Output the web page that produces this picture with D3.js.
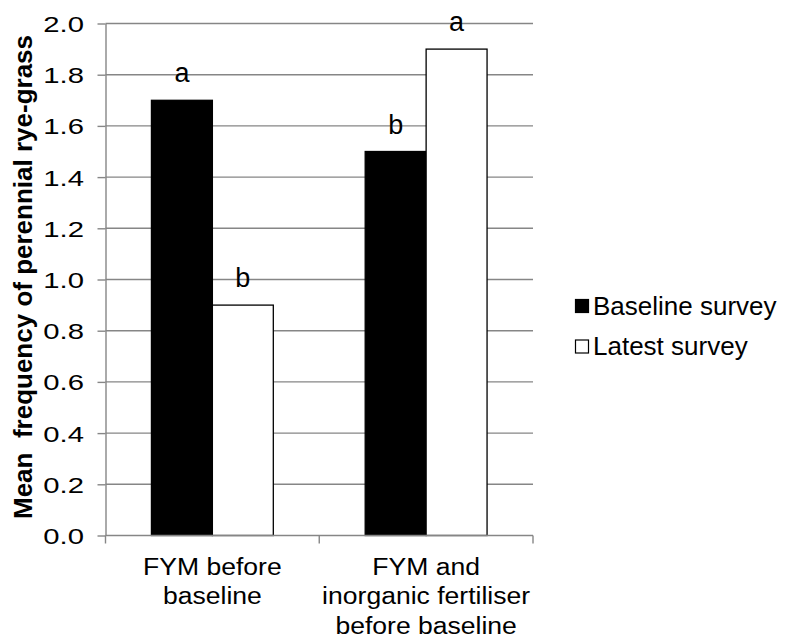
<!DOCTYPE html>
<html><head><meta charset="utf-8">
<script src="https://cdn.jsdelivr.net/npm/d3@7"></script>
<style>body{margin:0;background:#fff}</style>
</head><body>
<script>
const categories = [["FYM before","baseline"],["FYM and","inorganic fertiliser","before baseline"]];
const seriesNames = ["Baseline survey","Latest survey"];
const baselineValues = [1.7, 1.5];
const latestValues = [0.9, 1.9];
const baselineLetters = ["a","b"];
const latestLetters = ["b","a"];
const yTicks = [0,0.2,0.4,0.6,0.8,1.0,1.2,1.4,1.6,1.8,2.0];
const yTitle = "Mean  frequency of perennial rye-grass";

(function () {
const W = 785, H = 638;
const font = "'Liberation Sans', Arial, sans-serif";
const gray = "#868686";
const pL = 105.5, pR = 533, pT = 23.5, pB = 535.5;

const svg = d3.select("body").append("svg").attr("width", W).attr("height", H)
  .style("font-family", font);

const x = d3.scaleBand().domain(d3.range(categories.length)).range([pL, pR]).padding(0);
const xs = d3.scaleBand().domain([0,1]).range([0, x.bandwidth()]).paddingInner(0).paddingOuter(0.754);
const y = d3.scaleLinear().domain([0, 2]).range([pB, pT]);

// gridlines
svg.append("g").selectAll("line").data(yTicks.filter(d => d > 0)).join("line")
  .attr("x1", pL).attr("x2", pR)
  .attr("y1", d => y(d)).attr("y2", d => y(d))
  .attr("stroke", gray).attr("stroke-width", 1.4);

// y axis
const yAxis = svg.append("g").attr("transform", `translate(${pL},0)`)
  .call(d3.axisLeft(y).tickValues(yTicks).tickSize(8).tickSizeOuter(0).tickPadding(13).tickFormat(d3.format(".1f")));
yAxis.select(".domain").attr("stroke", gray).attr("stroke-width", 1.4);
yAxis.selectAll(".tick line").attr("stroke", gray).attr("stroke-width", 1.4);
yAxis.selectAll(".tick text").attr("fill", "#000").style("font-size", "22px").style("font-family", font)
  .attr("x", 0).attr("dy", "0.36em").attr("transform", "translate(-21.5,0) scale(1.33,1)");

// bars
const series = [
  {name: seriesNames[0], values: baselineValues, letters: baselineLetters, fill: "#000"},
  {name: seriesNames[1], values: latestValues, letters: latestLetters, fill: "#fff"}
];
series.forEach((s, si) => {
  const g = svg.append("g");
  g.selectAll("rect").data(s.values).join("rect")
    .attr("x", (d, i) => x(i) + xs(si))
    .attr("y", d => y(d))
    .attr("width", xs.bandwidth())
    .attr("height", d => y(0) - y(d))
    .attr("fill", s.fill).attr("stroke", "#000").attr("stroke-width", 1.3);
  g.selectAll("text").data(s.values).join("text")
    .attr("x", (d, i) => x(i) + xs(si) + xs.bandwidth() / 2)
    .attr("y", d => y(d) - 18)
    .attr("text-anchor", "middle").style("font-size", "27px")
    .text((d, i) => s.letters[i]);
});

// x axis
svg.append("line").attr("x1", pL).attr("x2", pR).attr("y1", pB).attr("y2", pB)
  .attr("stroke", gray).attr("stroke-width", 1.4);
const bounds = d3.range(categories.length + 1).map(i => i < categories.length ? x(i) : x(i - 1) + x.bandwidth());
svg.append("g").selectAll("line").data(bounds).join("line")
  .attr("x1", d => d).attr("x2", d => d).attr("y1", pB).attr("y2", pB + 8)
  .attr("stroke", gray).attr("stroke-width", 1.4);
const xl = svg.append("g").selectAll("text").data(categories).join("text")
  .attr("text-anchor", "middle").style("font-size", "23.5px")
  .attr("transform", (d, i) => `translate(${x(i) + x.bandwidth() / 2},574.5) scale(1.13,1)`);
xl.selectAll("tspan").data(d => d).join("tspan")
  .attr("x", 0).attr("dy", (d, i) => i === 0 ? 0 : 30).text(d => d);

// y title
svg.append("text").attr("transform", "translate(32,277) rotate(-90)")
  .attr("text-anchor", "middle").style("font-size", "26px").style("font-weight", "bold")
  .style("white-space", "pre")
  .text(yTitle);

// legend
const lg = svg.append("g");
series.forEach((s, si) => {
  const yy = 299.5 + si * 40.5;
  lg.append("rect").attr("x", 575.5).attr("y", yy).attr("width", 13).attr("height", 13)
    .attr("fill", s.fill).attr("stroke", "#000").attr("stroke-width", 1.2);
  lg.append("text").attr("x", 593).attr("y", yy + 15).style("font-size", "26px").text(s.name);
});
})();
</script>
</body></html>
